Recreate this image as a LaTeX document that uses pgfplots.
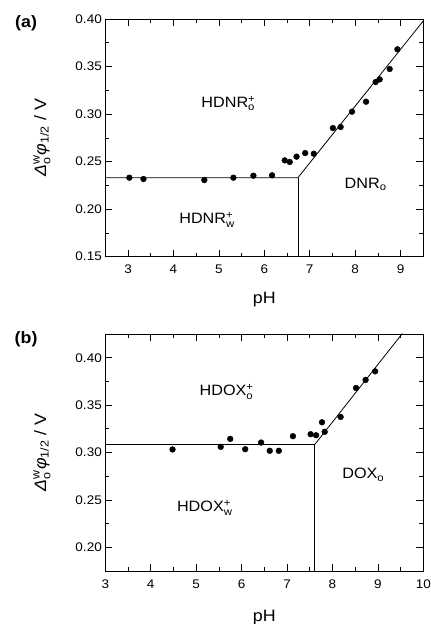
\documentclass[border=0pt]{standalone}
\usepackage{fontspec}
\setmainfont{Liberation Sans}[FakeStretch=1.08]
\usepackage{amsmath}
\usepackage{pgfplots}
\pgfplotsset{compat=1.18}

\pgfplotsset{
  panel/.style={
    scale only axis,
    width=318pt,
    clip mode=individual,
    /pgf/number format/assume math mode=true,
    tick align=inside,
    major tick length=7pt,
    minor tick length=4pt,
    tick style={black, line width=0.6pt},
    axis line style={line width=0.8pt},
    minor x tick num=1,
    minor y tick num=1,
    tick label style={font=\fontsize{12.5}{14}\selectfont},
    xticklabel style={yshift=-5pt},
    yticklabel style={/pgf/number format/.cd, fixed, fixed zerofill, precision=2},
    xlabel={pH},
    xlabel style={font=\fontsize{16.5}{18}\selectfont, anchor=center},
    ylabel={\textit{Δ}$^{\text{w}}_{\text{o}}$\textit{φ}$_{\text{1/2}}$ / V},
    ylabel style={font=\fontsize{16.5}{18}\selectfont, at={(axis description cs:-0.199,0.5)}, anchor=center},
  },
  dots/.style={only marks, mark=*, mark size=2.9pt, black},
  boundary/.style={black, line width=0.8pt, no marks},
}
\tikzset{
  region/.style={font=\fontsize{15}{17}\selectfont},
  tag/.style={font=\fontsize{16.5}{18}\selectfont\bfseries},
}

\begin{document}
\begin{tikzpicture}
\useasboundingbox (0,0) rectangle (431pt,624pt);

% (a) DNR
\begin{axis}[panel,
  at={(105.3pt,367.3pt)}, anchor=south west,
  height=237.7pt,
  xmin=2.5, xmax=9.5, ymin=0.15, ymax=0.40,
  xtick={3,4,5,6,7,8,9},
  ytick={0.15,0.2,0.25,0.3,0.35,0.4},
  xlabel style={at={(axis description cs:0.5,-0.181)}},
]
\addplot[dots] coordinates {
(3.03,0.2331) (3.34,0.2317) (4.68,0.2306) (5.32,0.2331) (5.76,0.2352)
(6.17,0.2356) (6.45,0.2513) (6.56,0.2496) (6.71,0.2552) (6.90,0.2590)
(7.09,0.2583) (7.51,0.2853) (7.68,0.2864) (7.93,0.3025) (8.24,0.3130)
(8.45,0.3337) (8.54,0.3365) (8.76,0.3474) (8.93,0.3681)
};
\addplot[boundary] coordinates {(2.5,0.2331) (6.74,0.2331) (9.5,0.398)};
\addplot[boundary] coordinates {(6.74,0.15) (6.74,0.2331)};
\node[region] at (axis cs:5.21,0.311) {HDNR$^{\text{+}}_{\text{o}}$};
\node[region] at (axis cs:4.74,0.189) {HDNR$^{\text{+}}_{\text{w}}$};
\node[region] at (axis cs:8.23,0.226) {DNR$_{\text{o}}$};
\node[tag] at (axis description cs:-0.249,0.983) {(a)};
\end{axis}

% (b) DOX
\begin{axis}[panel,
  at={(105.3pt,53pt)}, anchor=south west,
  height=237pt,
  xmin=3, xmax=10, ymin=0.175, ymax=0.425,
  xtick={3,4,5,6,7,8,9,10},
  ytick={0.2,0.25,0.3,0.35,0.4},
  xlabel style={at={(axis description cs:0.5,-0.198)}},
]
\addplot[dots] coordinates {
(4.48,0.3032) (5.54,0.3060) (5.75,0.3144) (6.08,0.3035) (6.43,0.3105)
(6.62,0.3018) (6.82,0.3018) (7.13,0.3172) (7.52,0.3193) (7.64,0.3182)
(7.77,0.3319) (7.83,0.3218) (8.18,0.3375) (8.52,0.3681) (8.73,0.3765)
(8.94,0.3856)
};
\addplot[boundary] coordinates {(3,0.3084) (7.61,0.3084) (9.54,0.4256)};
\addplot[boundary] coordinates {(7.61,0.175) (7.61,0.3084)};
\node[region] at (axis cs:5.67,0.364) {HDOX$^{\text{+}}_{\text{o}}$};
\node[region] at (axis cs:5.19,0.2414) {HDOX$^{\text{+}}_{\text{w}}$};
\node[region] at (axis cs:8.68,0.2765) {DOX$_{\text{o}}$};
\node[tag] at (axis description cs:-0.249,0.979) {(b)};
\end{axis}
\end{tikzpicture}
\end{document}
